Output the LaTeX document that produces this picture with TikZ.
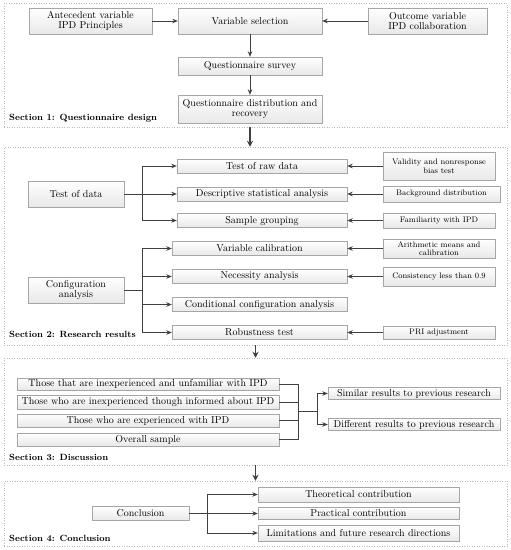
\documentclass[tikz,border=0pt]{standalone}
\usepackage{tikz}
\usetikzlibrary{arrows.meta,calc,positioning}

\begin{document}
\begin{tikzpicture}[x=1pt, y=-1pt, every node/.style = {inner sep=0pt, align=center}]
			\tikzset{ sz/.style 2 args = { minimum width=#1pt, minimum height=#2pt } }
			\tikzset{ box/.style = { draw=gray!70, top color=white, bottom color=gray!18, font=\fontsize{10}{10.5}\selectfont } }
			\tikzset{ sbox/.style = { box, font=\fontsize{8}{9}\selectfont } }
			\tikzset{ frame/.style = { draw=gray!55, dotted, line width=0.5pt } }
			\tikzset{ seclabel/.style = { anchor=base west, font=\bfseries\fontsize{9}{10}\selectfont } }
			\tikzset{ line/.style = { draw=black!75, line width=0.8pt } }
			\tikzset{ arr/.style = { line, -{Stealth[length=5.5pt,width=4.5pt]} } }
			\tikzset{ bigarr/.style = { draw=black!75, line width=1.4pt, -{Stealth[length=6pt,width=6pt]} } }

			\useasboundingbox (0,0) rectangle (511,550);

			% section frames
			\node [frame, sz={503}{124}] (sec1) at (255.5,65) {};
			\node [frame, sz={503}{198}] (sec2) at (255.5,246) {};
			\node [frame, sz={503}{107}] (sec3) at (255.5,411.5) {};
			\node [frame, sz={503}{65}] (sec4) at (255.5,513.5) {};

			% section 1
			\node [box, sz={123}{26}] (ante) at (90.5,21) {Antecedent variable\\IPD Principles};
			\node [box, sz={144}{26}] (vsel) at (250,21) {Variable selection};
			\node [box, sz={119}{26}] (outc) at (427.5,21) {Outcome variable\\IPD collaboration};
			\node [box, sz={144}{18}] (qsur) at (250,66) {Questionnaire survey};
			\node [box, sz={144}{28}] (qdis) at (250,109) {Questionnaire distribution and\\recovery};
			\node [seclabel] (lab1) at (9,120) {Section 1: Questionnaire design};

			\draw [arr] (ante) -- (vsel);
			\draw [arr] (outc) -- (vsel);
			\draw [arr] (vsel) -- (qsur);
			\draw [arr] (qsur) -- (qdis);
			\draw [bigarr] (qdis |- sec1.south) -- (qdis |- sec2.north);

			% section 2
			\node [box, sz={96}{26}] (tdat) at (76,194) {Test of data};
			\node [box, sz={96}{26}] (conf) at (76,290) {Configuration\\analysis};
			\node [box, sz={170}{14}] (raw) at (262,166) {Test of raw data};
			\node [box, sz={170}{14}] (desc) at (262,194) {Descriptive statistical analysis};
			\node [box, sz={170}{14}] (grp) at (262,220.5) {Sample grouping};
			\node [box, sz={175}{14}] (cal) at (259.5,248.5) {Variable calibration};
			\node [box, sz={175}{14}] (nec) at (259.5,276.5) {Necessity analysis};
			\node [box, sz={175}{14}] (cond) at (259.5,304.5) {Conditional configuration analysis};
			\node [box, sz={175}{14}] (rob) at (259.5,332.5) {Robustness test};
			\node [sbox, sz={112}{28}] (val) at (439,166) {Validity and nonresponse\\bias test};
			\node [sbox, sz={117}{16}] (bgd) at (441.5,194) {Background distribution};
			\node [sbox, sz={112}{15}] (fam) at (439,220.5) {Familiarity with IPD};
			\node [sbox, sz={112}{19}, font=\fontsize{8}{8.5}\selectfont] (ari) at (439,248.5) {Arithmetic means and\\calibration};
			\node [sbox, sz={112}{19}] (cons) at (439,276.5) {Consistency less than 0.9};
			\node [sbox, sz={112}{13}] (pri) at (439,332.5) {PRI adjustment};
			\node [seclabel] (lab2) at (9,337) {Section 2: Research results};

			\coordinate (br1) at (142,194);
			\coordinate (br2) at (142,290);
			\draw [arr] (tdat) -- (desc);
			\draw [arr] (br1) |- (raw.west);
			\draw [arr] (br1) |- (grp.west);
			\draw [line] (conf) -- (br2);
			\foreach \n in {cal,nec,cond,rob}
				\draw [arr] (br2) |- (\n.west);
			\foreach \s/\t in {val/raw,bgd/desc,fam/grp,ari/cal,cons/nec,pri/rob}
				\draw [arr] (\s.west) -- (\s.west -| \t.east);
			\draw [bigarr] (sec2.south) -- (sec3.north);

			% section 3
			\node [box, sz={262}{12}] (grp1) at (148,384) {Those that are inexperienced and unfamiliar with IPD};
			\node [box, sz={262}{14}] (grp2) at (148,402) {Those who are inexperienced though informed about IPD};
			\node [box, sz={262}{13}] (grp3) at (148,420.5) {Those who are experienced with IPD};
			\node [box, sz={262}{13}] (grp4) at (148,439.5) {Overall sample};
			\node [box, sz={172}{12}] (sim) at (414,393.5) {Similar results to previous research};
			\node [box, sz={172}{12}] (dif) at (414,424.5) {Different results to previous research};
			\node [seclabel] (lab3) at (9,460) {Section 3: Discussion};

			\coordinate (br3) at (298,411);
			\coordinate (br4) at (317,411);
			\foreach \n in {grp1,grp2,grp3,grp4}
				\draw [line] (\n.east) -| (br3);
			\draw [line] (br3) -- (br4);
			\draw [arr] (br4) |- (sim.west);
			\draw [arr] (br4) |- (dif.west);
			\draw [bigarr] (sec3.south) -- (sec4.north);

			% section 4
			\node [box, sz={97}{14}] (conc) at (140.5,513.5) {Conclusion};
			\node [box, sz={201}{15}] (theo) at (358.5,494.5) {Theoretical contribution};
			\node [box, sz={201}{12}] (prac) at (358.5,513.5) {Practical contribution};
			\node [box, sz={201}{16}] (lim) at (358.5,533) {Limitations and future research directions};
			\node [seclabel] (lab4) at (9,541) {Section 4: Conclusion};

			\coordinate (br5) at (207,513.5);
			\draw [arr] (conc) -- (prac);
			\draw [arr] (br5) |- (theo.west);
			\draw [arr] (br5) |- (lim.west);
\end{tikzpicture}
\end{document}
